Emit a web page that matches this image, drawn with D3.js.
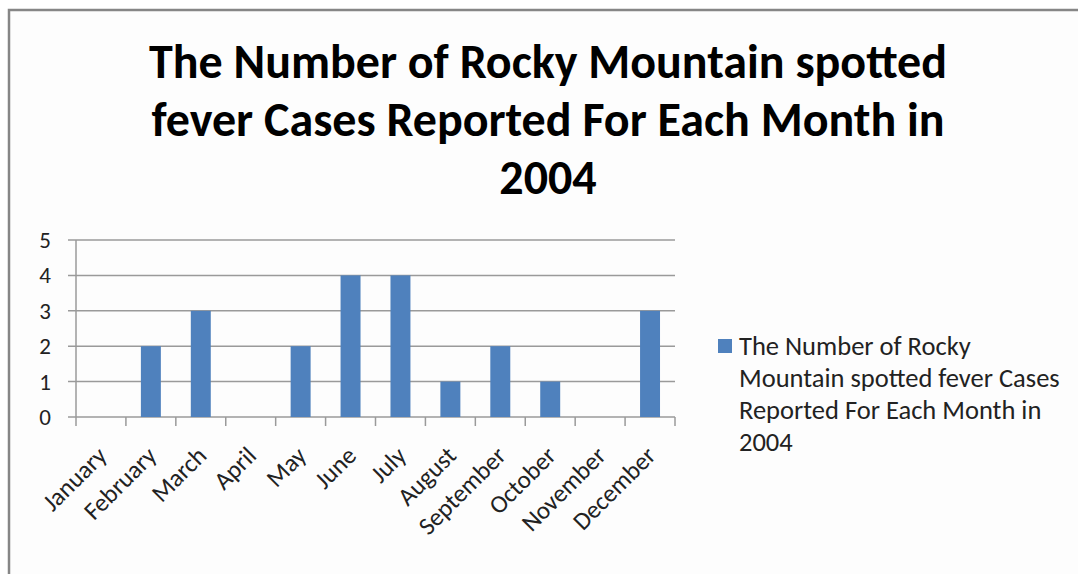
<!DOCTYPE html>
<html><head><meta charset="utf-8">
<script src="https://cdn.jsdelivr.net/npm/d3@7"></script>
<style>html,body{margin:0;padding:0;background:#fff;overflow:hidden}</style>
</head><body><svg id="c" width="1078" height="574"></svg>
<script>
const months = ["January","February","March","April","May","June","July","August","September","October","November","December"];
const cases = [0,2,3,0,2,4,4,1,2,1,0,3];
const yTicks = [0,1,2,3,4,5];
const titleLines = ["The Number of Rocky Mountain spotted","fever Cases Reported For Each Month in","2004"];
const legendLines = ["The Number of Rocky","Mountain spotted fever Cases","Reported For Each Month in","2004"];

const svg = d3.select("#c");
const font = "Carlito, Calibri, Lato, 'Open Sans', sans-serif";
svg.append("rect").attr("x",0).attr("y",0).attr("width",1078).attr("height",574).attr("fill","#fff");
svg.append("rect").attr("x",9).attr("y",10).attr("width",1100).attr("height",600)
  .attr("fill","#fdfdfd").attr("stroke","#868686").attr("stroke-width",2.5);

// title
const tg = svg.append("g");
titleLines.forEach((t,i)=>{
  tg.append("text").attr("x",548).attr("y",78+i*58).attr("text-anchor","middle")
    .attr("font-family",font).attr("font-weight","bold").attr("font-size",48).attr("fill","#000").text(t);
});

const x0=76, x1=675, yTop=240, yBot=417;
const x = d3.scaleBand().domain(months).range([x0,x1]).paddingInner(0.6).paddingOuter(0.3);
const xb = d3.scaleBand().domain(months).range([x0,x1]);
const y = d3.scaleLinear().domain([0,5]).range([yBot,yTop]);

// gridlines
svg.append("g").selectAll("line").data(yTicks).join("line")
  .attr("x1",x0-8).attr("x2",x1).attr("y1",d=>y(d)).attr("y2",d=>y(d))
  .attr("stroke","#9a9a9a").attr("stroke-width",1.5);
// y axis line
svg.append("line").attr("x1",x0).attr("x2",x0).attr("y1",yTop).attr("y2",yBot).attr("stroke","#9a9a9a").attr("stroke-width",1.5);
// x ticks
svg.append("g").selectAll("line").data(d3.range(13)).join("line")
  .attr("x1",i=>x0+i*xb.step()).attr("x2",i=>x0+i*xb.step()).attr("y1",yBot).attr("y2",yBot+9)
  .attr("stroke","#9a9a9a").attr("stroke-width",1.5);

// bars
svg.append("g").selectAll("rect").data(months).join("rect")
  .attr("x",d=>x(d)).attr("width",x.bandwidth())
  .attr("y",(d,i)=>y(cases[i])).attr("height",(d,i)=>yBot-y(cases[i]))
  .attr("fill","#4f81bd");

// y labels
svg.append("g").selectAll("text").data(yTicks).join("text")
  .attr("x",51).attr("y",d=>y(d)).attr("dy","0.35em").attr("text-anchor","end")
  .attr("font-family",font).attr("font-size",23).attr("fill","#222").text(d=>d);

// x labels
svg.append("g").selectAll("text").data(months).join("text")
  .attr("transform",d=>`translate(${xb(d)+xb.bandwidth()/2+1},${yBot+34}) rotate(-45)`)
  .attr("text-anchor","end").attr("dy","0.35em")
  .attr("font-family",font).attr("font-size",25).attr("fill","#222").text(d=>d);

// legend
svg.append("rect").attr("x",718).attr("y",339).attr("width",14).attr("height",14).attr("fill","#4f81bd");
svg.append("g").selectAll("text").data(legendLines).join("text")
  .attr("x",739).attr("y",(d,i)=>346+i*32).attr("dy","0.35em")
  .attr("font-family",font).attr("font-size",26.5).attr("fill","#222").text(d=>d);
</script></body></html>
